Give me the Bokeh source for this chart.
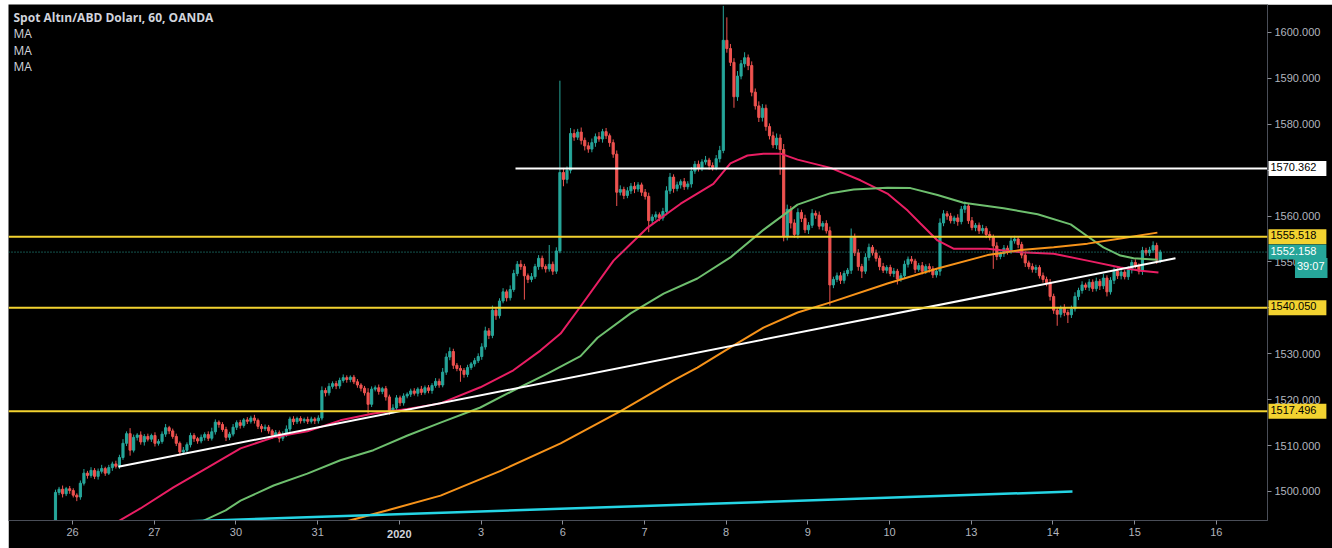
import numpy as np
from bokeh.plotting import figure
from bokeh.models import ColumnDataSource, Span, Label, FixedTicker, NumeralTickFormatter, Range1d
from bokeh.embed import file_html
from bokeh.resources import INLINE

# ---------------- data (hourly bars, index = bar number) ----------------
first_open = 1492.0
closes = [
    1499.8, 1500.5, 1499.5, 1500.6, 1500.2, 1499.2, 1498.8, 1501.8, 1504.0, 1503.5,
    1504.6, 1503.3, 1504.4, 1505.0, 1504.0, 1505.2, 1506.0, 1505.5, 1507.4, 1510.5,
    1512.6, 1509.0, 1511.8, 1512.3, 1510.8, 1512.0, 1511.4, 1512.2, 1510.5, 1510.9,
    1512.5, 1513.9, 1513.2, 1512.0, 1510.5, 1508.6, 1509.0, 1510.2, 1512.2, 1511.5,
    1511.0, 1511.8, 1512.4, 1511.6, 1513.0, 1515.1, 1514.6, 1513.5, 1511.8, 1512.5,
    1514.0, 1515.0, 1514.4, 1515.6, 1515.3, 1516.0, 1515.5, 1514.2, 1513.7, 1514.0,
    1513.2, 1512.3, 1512.8, 1511.6, 1512.4, 1513.6, 1515.8, 1515.2, 1515.9, 1515.4,
    1515.7, 1515.3, 1515.8, 1515.4, 1516.0, 1522.0, 1521.5, 1522.9, 1523.5, 1523.0,
    1524.2, 1524.8, 1524.4, 1524.9, 1523.9, 1523.2, 1522.5, 1521.5, 1519.0, 1522.3,
    1522.6, 1521.8, 1522.4, 1520.6, 1517.6, 1518.2, 1520.4, 1519.3, 1520.8, 1521.2,
    1521.9, 1521.4, 1522.3, 1521.6, 1522.6, 1522.0, 1523.1, 1524.0, 1523.2, 1526.0,
    1529.3, 1530.5, 1527.5, 1526.8, 1526.4, 1525.5, 1527.0, 1527.8, 1528.5, 1529.4,
    1531.5, 1535.0, 1534.0, 1539.5, 1538.3, 1541.5, 1543.5, 1542.2, 1544.0, 1547.5,
    1549.5, 1549.0, 1547.0, 1546.2, 1546.8, 1549.0, 1550.8, 1549.0, 1548.5, 1549.5,
    1548.0, 1552.4, 1569.5, 1568.0, 1570.0, 1578.0, 1577.2, 1578.3, 1576.5, 1575.3,
    1574.6, 1576.0, 1577.3, 1576.8, 1578.4, 1577.5, 1576.0, 1573.5, 1565.2, 1565.8,
    1564.5, 1565.5, 1566.5, 1565.9, 1566.8, 1565.2, 1564.3, 1559.0, 1559.8, 1560.3,
    1559.6, 1561.0, 1565.5, 1568.5, 1566.0, 1566.8, 1567.5, 1566.4, 1567.0, 1569.8,
    1571.3, 1570.5, 1571.8, 1572.2, 1571.0, 1570.6, 1572.5, 1574.3, 1598.3, 1596.5,
    1593.5, 1586.0, 1590.5, 1593.2, 1594.5, 1592.8, 1587.0, 1584.0, 1581.5, 1583.5,
    1579.5, 1577.5, 1575.5, 1577.0, 1574.5, 1555.5, 1561.5, 1558.5, 1556.0, 1560.8,
    1559.5, 1557.0, 1558.0, 1560.6, 1560.2, 1557.8, 1558.4, 1556.8, 1545.0, 1546.2,
    1547.0, 1546.0, 1547.5, 1548.2, 1555.5, 1552.0, 1549.0, 1548.0, 1551.0, 1553.2,
    1552.0, 1550.8, 1549.0, 1548.2, 1548.8, 1547.5, 1548.0, 1546.3, 1547.0, 1549.5,
    1550.6, 1550.2, 1548.4, 1549.2, 1548.0, 1549.0, 1548.5, 1547.2, 1548.0, 1558.5,
    1560.5, 1560.0, 1559.0, 1559.6, 1558.8, 1561.5, 1562.2, 1559.0, 1557.5, 1558.0,
    1556.8, 1557.3, 1556.0, 1555.4, 1553.5, 1551.2, 1551.8, 1553.0, 1552.4, 1554.6,
    1555.0, 1553.8, 1551.5, 1549.8, 1549.0, 1548.4, 1548.8, 1547.0, 1546.2, 1545.5,
    1542.5, 1539.5, 1538.6, 1540.0, 1539.0, 1538.5, 1539.8, 1542.5, 1543.8, 1545.0,
    1544.5, 1545.6, 1544.2, 1545.8, 1544.8, 1546.5, 1543.5, 1546.0, 1548.0, 1547.0,
    1547.8, 1546.8, 1548.3, 1549.9, 1549.2, 1548.0, 1552.5, 1552.0, 1552.6, 1553.6,
    1550.4, 1552.158,
]
wick_up = [
    0.6, 0.5, 0.8, 0.4, 0.6, 0.5, 0.4, 0.6, 0.9, 0.5,
    0.7, 0.5, 0.6, 0.8, 0.4, 0.6, 0.5, 0.7, 0.6, 0.9,
    0.5, 1.2, 0.6, 0.4, 0.8, 0.5, 0.6, 0.4, 0.7, 0.5,
    0.6, 0.8, 0.4, 0.5, 0.6, 0.4, 0.7, 0.5, 0.6, 0.5,
    0.4, 0.6, 0.5, 0.7, 0.9, 0.6, 0.4, 0.5, 0.6, 0.5,
    0.7, 0.5, 0.6, 0.4, 0.6, 0.5, 0.7, 0.4, 0.5, 0.6,
    0.5, 0.4, 0.6, 0.5, 0.7, 0.8, 0.5, 0.6, 0.4, 0.5,
    0.4, 0.6, 0.5, 0.4, 0.6, 0.9, 0.6, 0.7, 0.5, 0.6,
    0.6, 0.7, 0.5, 0.4, 0.5, 0.6, 0.4, 0.5, 1.0, 0.6,
    0.5, 0.7, 0.4, 0.6, 0.5, 0.8, 0.6, 0.5, 0.6, 0.4,
    0.5, 0.6, 0.4, 0.7, 0.5, 0.6, 0.5, 0.7, 0.6, 0.9,
    0.8, 0.9, 0.6, 0.5, 0.7, 0.5, 0.6, 0.4, 0.6, 0.7,
    0.8, 0.9, 0.6, 1.0, 0.7, 0.6, 0.8, 0.5, 0.9, 0.8,
    0.7, 0.9, 0.6, 0.5, 0.8, 0.6, 0.7, 0.6, 0.5, 4.2,
    0.6, 0.8, 20.0, 1.0, 0.8, 1.2, 0.9, 0.7, 1.0, 0.6,
    0.8, 0.9, 0.7, 1.0, 0.6, 0.8, 0.5, 0.7, 0.8, 0.9,
    0.6, 0.8, 0.7, 0.9, 0.6, 0.5, 0.7, 0.8, 0.6, 0.7,
    0.5, 0.8, 1.0, 0.9, 0.6, 0.7, 0.5, 0.8, 0.6, 0.9,
    0.7, 0.8, 0.6, 0.9, 0.5, 0.7, 0.8, 1.0, 7.5, 5.0,
    1.0, 0.9, 1.1, 0.8, 1.2, 0.7, 0.9, 0.8, 1.0, 0.9,
    0.8, 0.7, 0.9, 1.0, 0.8, 1.2, 1.0, 0.7, 0.8, 0.9,
    0.6, 0.8, 0.7, 0.9, 0.6, 0.8, 0.5, 0.7, 0.9, 0.6,
    0.7, 0.8, 0.6, 0.5, 1.8, 0.7, 0.8, 0.6, 0.9, 0.8,
    0.5, 0.7, 0.6, 0.8, 0.5, 0.6, 0.7, 0.5, 0.6, 0.8,
    0.6, 0.7, 0.5, 0.6, 0.8, 0.5, 0.7, 0.6, 0.5, 1.0,
    0.8, 0.6, 0.7, 0.5, 0.8, 0.7, 1.0, 0.6, 0.8, 0.5,
    0.6, 0.8, 0.5, 0.7, 0.6, 0.8, 0.5, 0.7, 0.6, 0.8,
    0.7, 0.5, 0.6, 0.8, 0.5, 0.7, 0.6, 0.5, 0.7, 0.6,
    0.8, 0.6, 0.7, 0.5, 0.8, 0.6, 0.7, 0.9, 0.6, 0.8,
    0.5, 0.7, 0.6, 0.8, 0.5, 0.9, 0.6, 0.7, 0.8, 0.6,
    0.7, 0.5, 0.8, 0.6, 0.7, 0.5, 0.8, 0.6, 0.7, 0.9,
    0.6, 0.5,
]
wick_dn = [
    0.0, 0.6, 0.8, 0.5, 0.7, 0.5, 0.9, 0.6, 0.5, 0.7,
    0.5, 0.6, 0.7, 0.5, 0.6, 0.4, 0.7, 0.5, 0.6, 0.5,
    0.6, 1.2, 0.5, 0.7, 0.6, 0.8, 0.5, 0.6, 0.7, 0.5,
    0.5, 0.6, 0.7, 0.5, 0.6, 0.8, 0.6, 0.5, 0.6, 0.7,
    0.6, 0.5, 0.7, 0.6, 0.5, 0.6, 0.7, 0.5, 0.8, 0.6,
    0.5, 0.6, 0.7, 0.5, 0.6, 0.5, 0.7, 0.6, 0.8, 0.5,
    0.6, 0.8, 0.5, 0.9, 0.6, 0.5, 0.6, 0.7, 0.5, 0.6,
    0.5, 0.6, 0.5, 0.7, 0.6, 0.5, 0.8, 0.6, 0.5, 0.7,
    0.6, 0.5, 0.7, 0.6, 0.5, 0.6, 0.7, 0.6, 2.0, 0.6,
    0.5, 0.7, 0.6, 0.8, 0.9, 0.6, 0.5, 0.7, 0.6, 0.5,
    0.6, 0.5, 0.7, 0.6, 0.5, 0.6, 0.7, 0.5, 0.6, 0.5,
    0.6, 0.7, 0.8, 0.6, 2.5, 0.7, 0.6, 0.5, 0.6, 0.5,
    0.7, 0.6, 0.8, 0.6, 0.9, 0.6, 0.5, 0.8, 0.6, 0.5,
    0.6, 0.7, 5.2, 0.8, 0.6, 0.5, 0.7, 0.6, 0.8, 0.6,
    0.8, 0.6, 0.5, 1.5, 0.9, 0.7, 0.8, 0.6, 0.9, 1.0,
    0.8, 0.7, 0.9, 0.6, 0.8, 0.7, 0.9, 0.8, 3.0, 0.7,
    0.8, 0.6, 0.7, 0.9, 0.6, 0.8, 0.7, 2.5, 0.8, 0.6,
    0.7, 0.6, 0.8, 0.7, 0.9, 0.6, 0.8, 0.7, 0.6, 0.8,
    0.6, 0.8, 0.7, 0.6, 0.9, 0.7, 0.6, 0.8, 0.6, 0.9,
    0.8, 2.4, 0.9, 0.7, 0.8, 1.0, 0.9, 0.8, 1.0, 0.9,
    0.9, 0.8, 0.7, 0.9, 5.5, 1.0, 0.8, 1.2, 0.7, 0.9,
    0.8, 0.7, 0.9, 0.6, 0.8, 0.7, 0.9, 0.6, 4.5, 0.7,
    0.6, 0.8, 0.7, 0.6, 0.8, 0.7, 0.9, 1.5, 0.6, 0.7,
    0.6, 0.7, 0.8, 0.6, 0.7, 0.6, 0.8, 1.2, 0.6, 0.7,
    0.7, 0.6, 0.8, 0.5, 0.7, 0.6, 0.8, 0.7, 0.6, 1.0,
    0.7, 0.8, 0.6, 0.7, 0.9, 0.6, 0.8, 0.7, 0.6, 0.8,
    0.7, 0.6, 0.8, 0.7, 5.0, 0.8, 0.6, 0.7, 0.8, 0.6,
    0.6, 0.8, 0.7, 0.9, 0.6, 0.7, 0.8, 0.6, 0.7, 0.8,
    0.9, 0.8, 2.5, 0.7, 0.8, 1.8, 0.7, 0.6, 0.8, 0.7,
    0.6, 0.8, 0.7, 0.6, 0.9, 0.7, 1.0, 0.6, 0.8, 0.7,
    0.8, 0.6, 0.7, 0.8, 0.6, 0.7, 0.8, 0.6, 0.7, 0.6,
    0.8, 0.6,
]

# moving averages (bar index, price)
ma_red_x = [17, 23.9, 33.2, 42.8, 52.1, 61.4, 70.9, 80.2, 89.5, 99.1, 108.4, 119.6, 128.9,
            136.5, 142.2, 147.8, 157.1, 166.7, 176, 185.2, 190, 194.8, 199.3, 204.1, 208.9,
            218.2, 226.6, 234.2, 239.9, 243.5, 248.3, 252.8, 262.4, 271.7, 281, 290.5,
            299.8, 305.5, 310.5]
ma_red_y = [1493.2, 1496.3, 1500.9, 1505.2, 1509.4, 1511.8, 1513.1, 1515.5, 1517.0, 1518.0,
            1519.2, 1522.7, 1526.4, 1530.7, 1534.4, 1540.3, 1550.3, 1557.5, 1562.7, 1567.0,
            1571.5, 1573.2, 1573.6, 1573.6, 1572.3, 1570.5, 1567.8, 1564.9, 1561.2, 1558.4,
            1554.7, 1552.9, 1552.9, 1552.1, 1551.8, 1550.3, 1548.8, 1548.1, 1547.7]
ma_green_x = [41.0, 47.9, 52.1, 61.4, 70.9, 80.2, 89.5, 99.1, 108.4, 119.6, 128.9, 138.5,
              147.8, 152.6, 161.9, 171.2, 180.7, 190, 199.3, 208.9, 218.2, 224.7, 234.2,
              240.7, 248.3, 255.6, 266.9, 276.5, 285.8, 290.5, 295, 299.8, 303.5, 310.2]
ma_green_y = [1493.4, 1495.9, 1498.0, 1501.3, 1503.9, 1506.8, 1509.0, 1512.2, 1515.0, 1518.3,
              1522.0, 1525.7, 1529.5, 1533.5, 1538.8, 1543.1, 1546.4, 1551.0, 1557.0, 1562.5,
              1565.0, 1565.8, 1566.2, 1566.1, 1564.6, 1562.9, 1561.7, 1560.4, 1558.2, 1555.6,
              1553.2, 1551.4, 1550.8, 1550.5]
ma_orange_x = [82.0, 93.5, 108.4, 125.3, 142.2, 159.1, 174, 180.7, 190, 199.3, 208.9, 218.2,
               234.2, 248.3, 262.4, 271.7, 281, 290.5, 299.8, 310.2]
ma_orange_y = [1493.5, 1495.9, 1499.1, 1504.5, 1510.5, 1517.5, 1524.2, 1527.0, 1531.4, 1535.7,
               1539.0, 1541.2, 1545.3, 1548.6, 1551.5, 1552.6, 1553.2, 1554.0, 1555.1, 1556.4]

# drawn trend lines / levels
white_trend_x = [17.7, 315.3]
white_trend_y = [1505.4, 1550.8]
cyan_trend_x = [29.6, 286.3]
cyan_trend_y = [1493.3, 1500.0]
resistance_level = 1570.362
resistance_start = 129.5
yellow_levels = [1555.518, 1540.050, 1517.496]
last_price = 1552.158
countdown = "39:07"

day_tick_pos = [4.8, 27.8, 50.8, 73.8, 96.8, 119.8, 142.8, 165.8, 188.8, 211.8,
                234.8, 257.8, 280.8, 303.8, 326.8]
day_labels = ["26", "27", "30", "31", "2020", "3", "6", "7", "8", "9",
              "10", "13", "14", "15", "16"]
price_ticks = [1500, 1510, 1520, 1530, 1540, 1550, 1560, 1570, 1580, 1590, 1600]

title_text = "Spot Altın/ABD Doları, 60, OANDA"
ma_labels = ["MA", "MA", "MA"]

# ---------------- derived candle table ----------------
n = len(closes)
idx = np.arange(n)
opens = [first_open] + closes[:-1]
highs = [max(o, c) + w for o, c, w in zip(opens, closes, wick_up)]
lows = [min(o, c) - w for o, c, w in zip(opens, closes, wick_dn)]
UP, DOWN = "#26a69a", "#ef5350"
colors = [UP if c >= o else DOWN for o, c in zip(opens, closes)]
src = ColumnDataSource(dict(x=idx, open=opens, close=closes, high=highs, low=lows,
                            top=[max(o, c) for o, c in zip(opens, closes)],
                            bottom=[min(o, c) for o, c in zip(opens, closes)],
                            color=colors))

FW, FH = 1259, 516
X0, X1 = -13.23, 341.2
Y0, Y1 = 1493.68, 1606.10
FONT = "'Liberation Sans Narrow', 'Liberation Sans', sans-serif"

p = figure(frame_width=FW, frame_height=FH,
           x_range=Range1d(X0, X1), y_range=Range1d(Y0, Y1),
           output_backend="svg", toolbar_location=None,
           background_fill_color="black", border_fill_color="black",
           min_border_left=0, min_border_top=0, min_border_right=65, min_border_bottom=28,
           margin=(4, 0, 0, 8),
           y_axis_location="right", outline_line_color=None)
p.xgrid.visible = False
p.ygrid.visible = False

# axes
p.yaxis.ticker = FixedTicker(ticks=price_ticks)
p.yaxis.formatter = NumeralTickFormatter(format="0.000")
p.xaxis.ticker = FixedTicker(ticks=day_tick_pos)
p.xaxis.major_label_overrides = {pos: ("" if lab == "2020" else lab)
                                 for pos, lab in zip(day_tick_pos, day_labels)}
for ax in (p.xaxis, p.yaxis):
    ax.axis_line_color = "#4a4e58"
    ax.major_tick_line_color = "#8a8d96"
    ax.major_tick_in = 0
    ax.major_tick_out = 4
    ax.minor_tick_line_color = None
    ax.major_label_text_color = "#b2b5be"
    ax.major_label_text_font_size = "11px"
    ax.major_label_text_font = FONT
    ax.major_label_standoff = 3

# candles
p.segment("x", "high", "x", "low", color="color", line_width=1, source=src)
p.vbar(x="x", width=0.6, top="top", bottom="bottom", fill_color="color",
       line_color="color", line_width=1, source=src)

# levels
for lvl in yellow_levels:
    p.add_layout(Span(location=lvl, dimension="width", line_color="#f2d230", line_width=2))
p.add_layout(Span(location=last_price, dimension="width", line_color="#26a69a",
                  line_width=1, line_dash="1 2"))

# moving averages
p.line(ma_red_x, ma_red_y, line_color="#e91e63", line_width=2)
p.line(ma_green_x, ma_green_y, line_color="#6ebf6e", line_width=2)
p.line(ma_orange_x, ma_orange_y, line_color="#f7931a", line_width=2)

# trend lines
p.line(white_trend_x, white_trend_y, line_color="white", line_width=2)
p.line(cyan_trend_x, cyan_trend_y, line_color="#25d5e5", line_width=2.5)
p.segment(x0=[resistance_start], y0=[resistance_level], x1=[X1], y1=[resistance_level],
          line_color="white", line_width=2)


# price boxes on the right axis: labels placed in the side panel (not clipped)
def price_box(yv, text, bg, fg):
    p.add_layout(Label(x=X1, y=yv, x_offset=1, text=text, text_color=fg,
                       text_font_size="11px", text_font=FONT,
                       text_baseline="middle", text_align="left",
                       background_fill_color=bg, padding=(2, 10, 2, 5)), "right")


price_box(resistance_level, f"{resistance_level:.3f}", "white", "black")
for lvl in yellow_levels:
    price_box(lvl, f"{lvl:.3f}", "#f2d230", "black")
price_box(last_price, f"{last_price:.3f}", "#26a69a", "white")
p.add_layout(Label(x=X1, y=last_price, x_offset=60, y_offset=-16, text=countdown,
                   text_color="white", text_font_size="11px", text_font=FONT,
                   text_baseline="middle", text_align="right",
                   background_fill_color="#26a69a", padding=(2, 3, 2, 6)), "right")

# bold year label on time axis
year_pos = day_tick_pos[day_labels.index("2020")]
p.add_layout(Label(x=year_pos, y=Y0, y_offset=-13, text="2020", text_color="#d1d4dc",
                   text_font_size="11px", text_font=FONT, text_font_style="bold",
                   text_baseline="middle", text_align="center"), "below")

# legend text, top-left
p.add_layout(Label(x=X0, y=Y1, x_offset=5, y_offset=-13, text=title_text,
                   text_color="#d1d4dc", text_font_size="12px", text_font="Open Sans",
                   text_font_style="bold", text_baseline="middle", text_align="left"))
for k, lab in enumerate(ma_labels):
    p.add_layout(Label(x=X0, y=Y1, x_offset=5, y_offset=-29 - 16.5 * k, text=lab,
                       text_color="#d1d4dc", text_font_size="12px", text_font="Open Sans",
                       text_baseline="middle", text_align="left"))

open("out.html", "w").write(file_html(p, INLINE))
